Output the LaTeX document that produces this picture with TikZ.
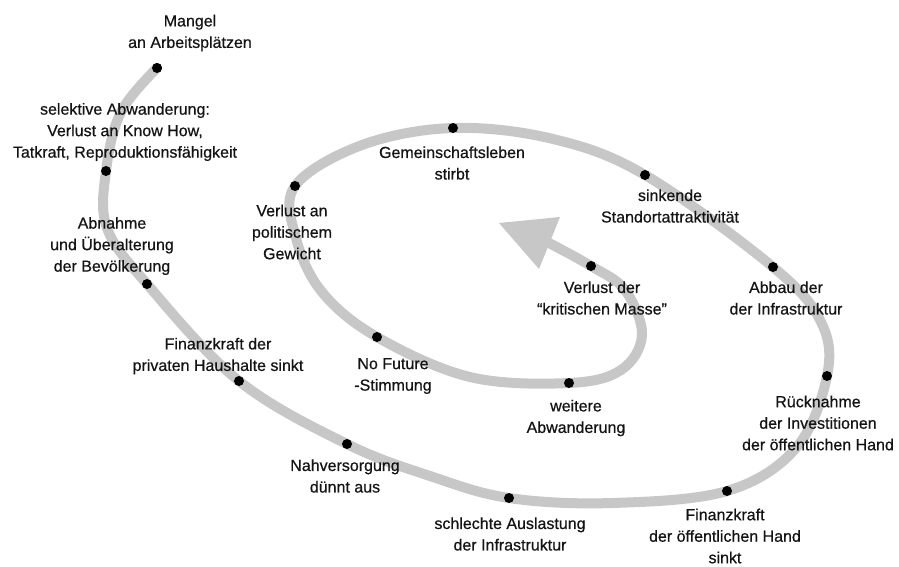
\documentclass[tikz,border=0pt]{standalone}
\usepackage{fontspec}
\setmainfont[UprightFeatures={FakeBold=0.6}]{Liberation Sans}
\begin{document}
\begin{tikzpicture}[x=1pt,y=-1pt,
  dot/.style={circle,fill=black,inner sep=0pt,minimum size=10pt},
  lbl/.style={align=center,text=black!92,font=\fontsize{16}{21.5}\selectfont,inner sep=0pt},
  spiral/.style={line width=10pt,draw=black!22}]
\useasboundingbox (0,0) rectangle (899,566);
% dots
\node[dot] (d1) at (157,68) {};
\node[dot] (d2) at (106,171) {};
\node[dot] (d3) at (147,284) {};
\node[dot] (d4) at (239,381) {};
\node[dot] (d5) at (347,444) {};
\node[dot] (d6) at (509,498) {};
\node[dot] (d7) at (727,491) {};
\node[dot] (d8) at (827,376) {};
\node[dot] (d9) at (773,267) {};
\node[dot] (d10) at (645,175) {};
\node[dot] (d11) at (453,128) {};
\node[dot] (d12) at (295,186) {};
\node[dot] (d13) at (377,337) {};
\node[dot] (d14) at (569,383) {};
\node[dot] (d15) at (591,266) {};
% via points
\coordinate (v1) at (121,112);
\coordinate (v2) at (107,228);
\coordinate (v3) at (430,476);
\coordinate (v4) at (612,503);
\coordinate (v5) at (796,448);
\coordinate (v6) at (821,322);
\coordinate (v7) at (553,139);
\coordinate (v8) at (362,145);
\coordinate (v9) at (296,238);
\coordinate (v10) at (322,292);
\coordinate (v11) at (470,377);
\coordinate (v12) at (621,370);
\coordinate (v13) at (642,335);
\coordinate (v14) at (625,290);
\coordinate (tipbase) at (549,243);
% spiral
\draw[spiral] plot[smooth,tension=0.6] coordinates {
 (d1.center) (v1) (d2.center) (v2) (d3.center) (d4.center) (d5.center) (v3) (d6.center)
 (v4) (d7.center) (v5) (d8.center) (v6) (d9.center) (d10.center) (v7) (d11.center)
 (v8) (d12.center) (v9) (v10) (d13.center) (v11) (d14.center) (v12) (v13) (v14)
 (d15.center) (tipbase)};
\fill[black!22] (499,223) -- (560,217) -- (539,269) -- cycle;
% redraw dots on top
\foreach \i in {1,...,15} {\fill[black] (d\i.center) circle (5pt);}
% labels
\node[lbl] (l1) at (190,33) {Mangel\\an Arbeitsplätzen};
\node[lbl] (l2) at (125,132) {selektive Abwanderung:\\Verlust an Know How,\\Tatkraft, Reproduktionsfähigkeit};
\node[lbl] (l3) at (112,246) {Abnahme\\und Überalterung\\der Bevölkerung};
\node[lbl] (l4) at (218,356) {Finanzkraft der\\privaten Haushalte sinkt};
\node[lbl] (l5) at (345,476) {Nahversorgung\\dünnt aus};
\node[lbl] (l6) at (510,534) {schlechte Auslastung\\der Infrastruktur};
\node[lbl] (l7) at (725,536) {Finanzkraft\\der öffentlichen Hand\\sinkt};
\node[lbl] (l8) at (818,423) {Rücknahme\\der Investitionen\\der öffentlichen Hand};
\node[lbl] (l9) at (786,298) {Abbau der\\der Infrastruktur};
\node[lbl] (l10) at (670,206) {sinkende\\Standortattraktivität};
\node[lbl] (l11) at (452,163) {Gemeinschaftsleben\\stirbt};
\node[lbl] (l12) at (292,232) {Verlust an\\politischem\\Gewicht};
\node[lbl] (l13) at (393,376) {No Future\\-Stimmung};
\node[lbl] (l14) at (576,418) {weitere\\Abwanderung};
\node[lbl] (l15) at (602,298) {Verlust der\\“kritischen Masse”};
\end{tikzpicture}
\end{document}
